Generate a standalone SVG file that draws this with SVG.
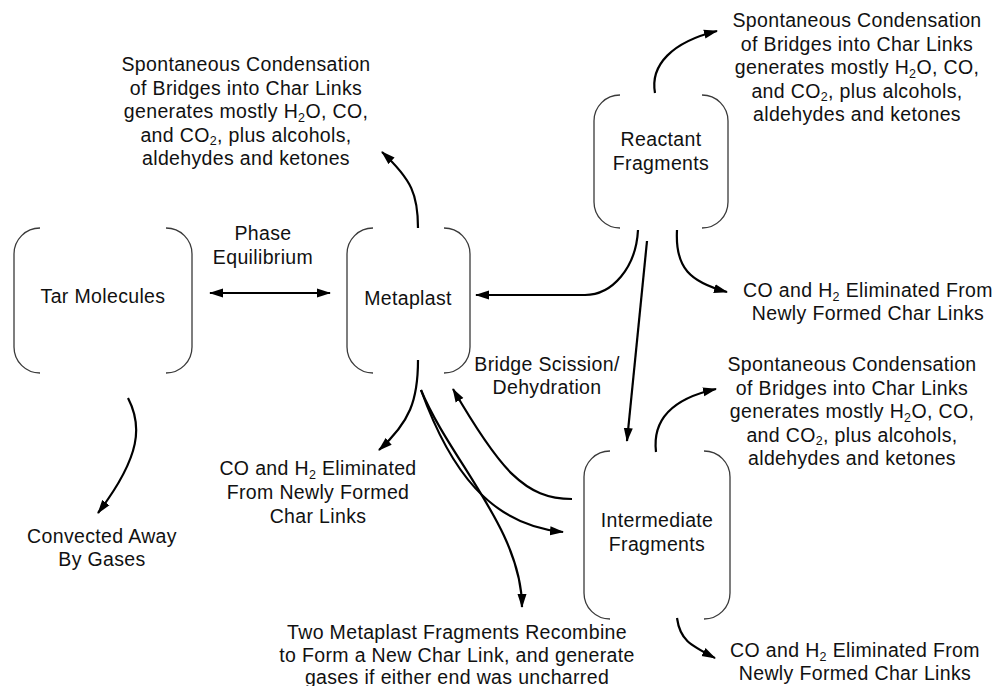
<svg xmlns="http://www.w3.org/2000/svg" width="1000" height="686" viewBox="0 0 1000 686">
<style>
.br{fill:none;stroke:#3a3a3a;stroke-width:1.3}
.cn{fill:none;stroke:#000;stroke-width:2.2;marker-end:url(#ah)}
.dbl{marker-start:url(#ah)}
text{font-family:"Liberation Sans",Arial,sans-serif;font-size:19.5px;letter-spacing:0.35px;fill:#111;text-anchor:middle}
.sub{font-size:12.5px}
</style>
<defs>
<marker id="ah" viewBox="0 0 14 10" refX="13" refY="5" markerWidth="14" markerHeight="10" markerUnits="userSpaceOnUse" orient="auto-start-reverse">
<path d="M0,0.5 L14,5 L0,9.5 z" fill="#000"/>
</marker>
</defs>
<rect width="1000" height="686" fill="#fff"/>

<g id="tar">
<path class="br" d="M40,228 A26,26 0 0 0 14,254 V347 A26,26 0 0 0 40,373"/>
<path class="br" d="M166,228 A26,26 0 0 1 192,254 V347 A26,26 0 0 1 166,373"/>
<text x="103" y="303">Tar Molecules</text>
</g>

<g id="metaplast">
<path class="br" d="M373,228 A26,26 0 0 0 347,254 V347 A26,26 0 0 0 373,373"/>
<path class="br" d="M444,228 A26,26 0 0 1 470,254 V347 A26,26 0 0 1 444,373"/>
<text x="408" y="305">Metaplast</text>
</g>

<g id="reactant">
<path class="br" d="M620,95 A26,26 0 0 0 594,121 V202 A26,26 0 0 0 620,228"/>
<path class="br" d="M702,95 A26,26 0 0 1 728,121 V202 A26,26 0 0 1 702,228"/>
<text x="661" y="146">Reactant</text>
<text x="661" y="170">Fragments</text>
</g>

<g id="intermediate">
<path class="br" d="M610,451 A26,26 0 0 0 584,477 V593 A26,26 0 0 0 610,619"/>
<path class="br" d="M704,451 A26,26 0 0 1 730,477 V593 A26,26 0 0 1 704,619"/>
<text x="657" y="527">Intermediate</text>
<text x="657" y="551">Fragments</text>
</g>

<g id="labels">
<text x="263" y="240">Phase</text>
<text x="263" y="264">Equilibrium</text>
<text x="547" y="371">Bridge Scission/</text>
<text x="547" y="394">Dehydration</text>
</g>

<g id="note-top-left">
<text x="246" y="71">Spontaneous Condensation</text>
<text x="246" y="94.5">of Bridges into Char Links</text>
<text x="246" y="118">generates mostly H<tspan class="sub" dy="3.5">2</tspan><tspan dy="-3.5">O, CO,</tspan></text>
<text x="246" y="141.5">and CO<tspan class="sub" dy="3.5">2</tspan><tspan dy="-3.5">, plus alcohols,</tspan></text>
<text x="246" y="165">aldehydes and ketones</text>
</g>

<g id="note-top-right">
<text x="857" y="27">Spontaneous Condensation</text>
<text x="857" y="50.5">of Bridges into Char Links</text>
<text x="857" y="74">generates mostly H<tspan class="sub" dy="3.5">2</tspan><tspan dy="-3.5">O, CO,</tspan></text>
<text x="857" y="97.5">and CO<tspan class="sub" dy="3.5">2</tspan><tspan dy="-3.5">, plus alcohols,</tspan></text>
<text x="857" y="121">aldehydes and ketones</text>
</g>

<g id="note-mid-right">
<text x="852" y="371">Spontaneous Condensation</text>
<text x="852" y="394.5">of Bridges into Char Links</text>
<text x="852" y="418">generates mostly H<tspan class="sub" dy="3.5">2</tspan><tspan dy="-3.5">O, CO,</tspan></text>
<text x="852" y="441.5">and CO<tspan class="sub" dy="3.5">2</tspan><tspan dy="-3.5">, plus alcohols,</tspan></text>
<text x="852" y="465">aldehydes and ketones</text>
</g>

<g id="note-co-upper-right">
<text x="868" y="297">CO and H<tspan class="sub" dy="3.5">2</tspan><tspan dy="-3.5"> Eliminated From</tspan></text>
<text x="868" y="320">Newly Formed Char Links</text>
</g>

<g id="note-co-left">
<text x="318" y="475">CO and H<tspan class="sub" dy="3.5">2</tspan><tspan dy="-3.5"> Eliminated</tspan></text>
<text x="318" y="499">From Newly Formed</text>
<text x="318" y="523">Char Links</text>
</g>

<g id="note-convected">
<text x="102" y="543">Convected Away</text>
<text x="102" y="566">By Gases</text>
</g>

<g id="note-recombine">
<text x="457" y="639">Two Metaplast Fragments Recombine</text>
<text x="457" y="662">to Form a New Char Link, and generate</text>
<text x="457" y="684">gases if either end was uncharred</text>
</g>

<g id="note-co-bottom-right">
<text x="855" y="657">CO and H<tspan class="sub" dy="3.5">2</tspan><tspan dy="-3.5"> Eliminated From</tspan></text>
<text x="855" y="680">Newly Formed Char Links</text>
</g>

<g id="connectors">
<path class="cn dbl" d="M210,293 H330"/>
<path class="cn" d="M418,228 C418,195 412,180 382,152"/>
<path class="cn" d="M655,93 C650,65 672,42 717,31"/>
<path class="cn" d="M638,230 C636,268 612,295 585,295 L476,295"/>
<path class="cn" d="M647,241 L627,441"/>
<path class="cn" d="M677,230 C675,268 690,282 727,292"/>
<path class="cn" d="M656,452 C652,418 675,398 716,389"/>
<path class="cn" d="M677,618 C680,640 690,645 715,658"/>
<path class="cn" d="M572,499 C525,499 500,470 453,389"/>
<path class="cn" d="M418,360 C418,400 410,422 379,450"/>
<path class="cn" d="M421,390 C450,470 490,525 563,532"/>
<path class="cn" d="M421,390 C450,460 522,530 522,607"/>
<path class="cn" d="M128,398 C142,425 142,455 98,513"/>
</g>
</svg>
